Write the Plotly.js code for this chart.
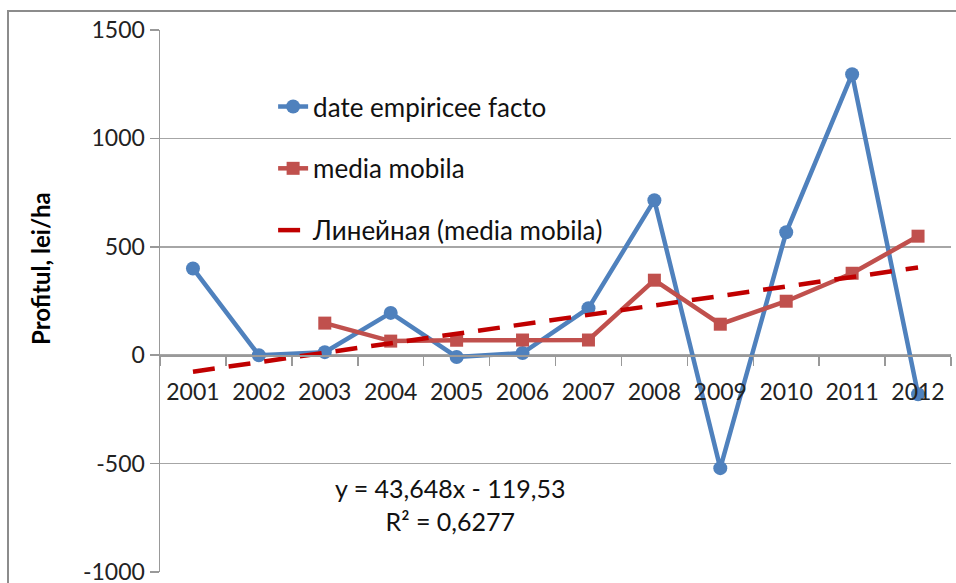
<!DOCTYPE html>
<html>
<head>
<meta charset="utf-8">
<script src="https://cdn.plot.ly/plotly-3.0.1.min.js"></script>
<style>
  html, body { margin:0; padding:0; overflow:hidden; background:#fff; }
  #chart { position:absolute; left:0; top:0; width:956px; height:583px; }
  #frame { position:absolute; left:7px; top:10px; width:1000px; height:700px;
           border-left:2px solid #8c8c8c; border-top:2px solid #8c8c8c; pointer-events:none; }
</style>
</head>
<body>
<div id="chart"></div>
<div id="frame"></div>
<script>
const years = ['2001','2002','2003','2004','2005','2006','2007','2008','2009','2010','2011','2012'];
const empiric = [400, 0, 14, 195, -8, 10, 217, 715, -521, 567, 1296, -180];
const mediaYears = ['2003','2004','2005','2006','2007','2008','2009','2010','2011','2012'];
const media = [148, 65, 69, 70, 70, 346, 143, 249, 378, 549];
const trendYears = ['2001','2012'];
const trendVals = [-75.9, 404.2];
const yTicks = [-1000, -500, 0, 500, 1000, 1500];
const trendText = 'y = 43,648x - 119,53<br>R² = 0,6277';
const yTitle = 'Profitul, lei/ha';

const FONT = 'Lato, "Open Sans", sans-serif';

const traces = [
  {
    x: years, y: empiric, name: 'date empiricee facto', type: 'scatter', mode: 'lines+markers',
    line: {color: '#4F81BD', width: 4.5}, marker: {symbol: 'circle', size: 14, color: '#4F81BD'},
    legendgroup: 'a', cliponaxis: false
  },
  {
    x: mediaYears, y: media, name: 'media mobila', type: 'scatter', mode: 'lines+markers',
    line: {color: '#C0504D', width: 4.5}, marker: {symbol: 'square', size: 13, color: '#C0504D'},
    legendgroup: 'b', cliponaxis: false
  },
  {
    x: trendYears, y: trendVals, name: 'Линейная (media mobila)', type: 'scatter', mode: 'lines',
    line: {color: '#C00000', width: 4.5, dash: '22px,14px'},
    legendgroup: 'c'
  }
];

const layout = {
  width: 956, height: 583,
  margin: {l: 160, r: 5, t: 30, b: 11},
  paper_bgcolor: '#ffffff', plot_bgcolor: '#ffffff',
  font: {family: FONT, size: 23, color: '#222'},
  showlegend: true,
  legend: {
    x: 0.143, y: 0.902, xanchor: 'left', yanchor: 'top',
    bgcolor: 'rgba(0,0,0,0)', font: {family: FONT, size: 26, color: '#111'},
    tracegroupgap: 25, itemwidth: 30, traceorder: 'grouped'
  },
  xaxis: {
    type: 'category', categoryarray: years, categoryorder: 'array',
    range: [-0.5, 11.5], anchor: 'free', position: 0.4,
    showline: true, linecolor: '#999', linewidth: 1.5,
    ticks: 'outside', tickson: 'boundaries', ticklen: 9, tickcolor: '#999', tickwidth: 1.5,
    ticklabelstandoff: 16, tickangle: 0, ticklabeloverflow: 'allow',
    showgrid: false, zeroline: false,
    tickfont: {family: FONT, size: 23, color: '#222'}
  },
  yaxis: {
    range: [-1000, 1500], tickvals: yTicks, ticktext: yTicks.map(String),
    showline: true, linecolor: '#999', linewidth: 1.5,
    ticks: 'outside', ticklen: 9, tickcolor: '#999', tickwidth: 1.5,
    ticklabeloverflow: 'allow',
    showgrid: true, gridcolor: '#a6a6a6', gridwidth: 1.5, zeroline: false,
    tickfont: {family: FONT, size: 23, color: '#222'}
  },
  annotations: [
    {
      xref: 'paper', yref: 'y', x: 0.3666, y: -690, xanchor: 'center', yanchor: 'middle',
      text: trendText, showarrow: false, align: 'center',
      font: {family: FONT, size: 25, color: '#111'}
    },
    {
      xref: 'paper', yref: 'paper', x: -0.1517, y: 0.559, xanchor: 'center', yanchor: 'middle',
      text: '<b>' + yTitle + '</b>', textangle: -90, showarrow: false,
      font: {family: FONT, size: 24, color: '#000'}
    }
  ]
};

Plotly.newPlot('chart', traces, layout, {displayModeBar: false, staticPlot: true});
</script>
</body>
</html>
